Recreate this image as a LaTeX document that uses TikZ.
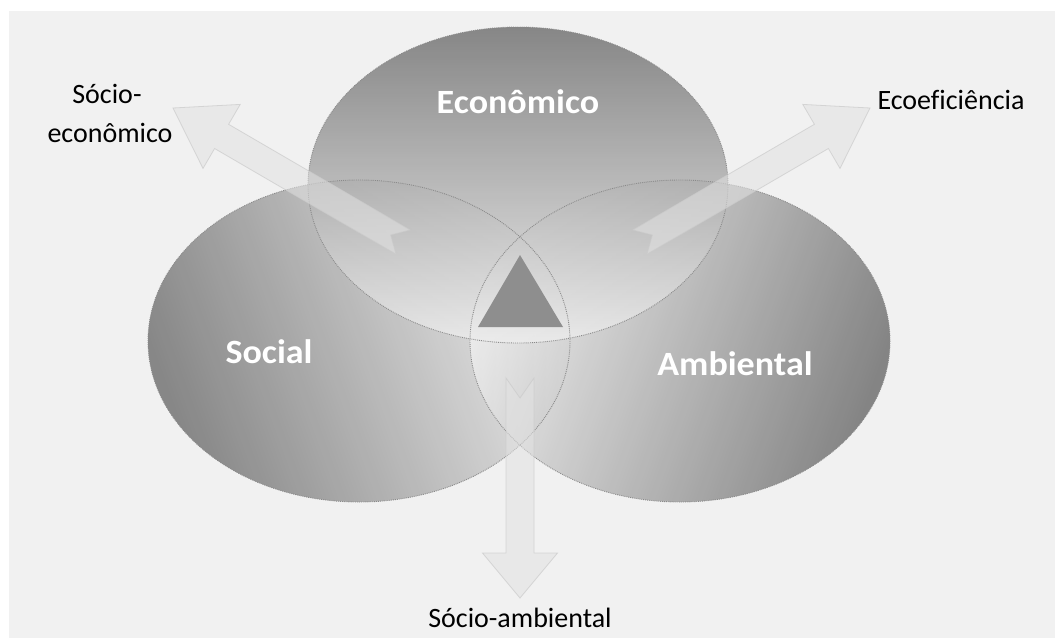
\documentclass[tikz,border=0pt]{standalone}
\usepackage{fontspec}
\newfontfamily\plainfont[Ligatures=NoCommon]{Carlito}
\newfontfamily\headfont[FakeStretch=1.06]{Carlito}

% palette
\definecolor{pagebg}{HTML}{F1F1F1}
\definecolor{ecodark}{HTML}{747474}
\definecolor{ecolight}{HTML}{EDEDED}
\definecolor{socdark}{HTML}{7C7C7C}
\definecolor{soclight}{HTML}{EAEAEA}
\definecolor{ambdark}{HTML}{727272}
\definecolor{amblight}{HTML}{EEEEEE}
\definecolor{rimgray}{HTML}{8A8A8A}
\definecolor{arrowfill}{HTML}{E2E2E2}
\definecolor{arrowedge}{HTML}{CACACA}
\definecolor{corefill}{HTML}{8E8E8E}

% gradients: dark at the left stop, light at the right stop
\pgfdeclarehorizontalshading{ecoshade}{100bp}{color(0bp)=(ecodark); color(25bp)=(ecodark); color(75bp)=(ecolight); color(100bp)=(ecolight)}
\pgfdeclarehorizontalshading{socshade}{100bp}{color(0bp)=(socdark); color(25bp)=(socdark); color(75bp)=(soclight); color(100bp)=(soclight)}
\pgfdeclarehorizontalshading{ambshade}{100bp}{color(0bp)=(ambdark); color(25bp)=(ambdark); color(75bp)=(amblight); color(100bp)=(amblight)}

\tikzset{
  rim/.style={draw=rimgray, densely dotted, line width=0.9pt},
  blockarrow/.style={fill=arrowfill, fill opacity=0.55, draw=arrowedge, draw opacity=0.7, line width=0.8pt, line join=miter},
  headlabel/.style={font=\headfont\bfseries\fontsize{34}{40}\selectfont, text=white, inner sep=0pt, anchor=base},
  sidelabel/.style={font=\plainfont\fontsize{28}{34}\selectfont, text=black, inner sep=0pt, anchor=base}
}

\begin{document}
\begin{tikzpicture}[x=1pt,y=-1pt]
\useasboundingbox (0,0) rectangle (1055,638);
\fill[white] (0,0) rectangle (1055,638);
\fill[pagebg] (9,11) rectangle (1055,638);

% the three spheres
\path[shading=socshade, shading angle=20, fill opacity=0.9]
  (359,341) ellipse [x radius=211, y radius=161];
\path[shading=ambshade, shading angle=160, fill opacity=0.85]
  (680,341) ellipse [x radius=210, y radius=161];
\path[shading=ecoshade, shading angle=-90, fill opacity=0.85]
  (518,185) ellipse [x radius=210, y radius=158];

% dotted rims on top of every fill
\draw[rim] (359,341) ellipse [x radius=211, y radius=161];
\draw[rim] (680,341) ellipse [x radius=210, y radius=161];
\draw[rim] (518,185) ellipse [x radius=210, y radius=158];

% block arrows leaving the overlaps
\draw[blockarrow] (410.0,229.9) -- (228.6,124.3) -- (240.2,104.4) -- (173,108)
  -- (203.0,168.4) -- (214.6,148.5) -- (396.0,254.1) -- (390.6,235.0) -- cycle;
\draw[blockarrow] (633.0,229.9) -- (814.4,124.3) -- (802.8,104.4) -- (870,108)
  -- (840.0,168.4) -- (828.4,148.5) -- (647.0,254.1) -- (652.4,235.0) -- cycle;
\draw[blockarrow] (506,378) -- (506,553) -- (482.5,553) -- (520,598)
  -- (557.5,553) -- (534,553) -- (534,378) -- (520,398) -- cycle;

% central triangle
\fill[corefill] (520,255) -- (478,327) -- (563,327) -- cycle;

% labels
\node[headlabel] (eco) at (518,113) {Econômico};
\node[headlabel] (soc) at (269,363) {Social};
\node[headlabel] (amb) at (735,375) {Ambiental};

\node[sidelabel] (socecoA) at (107,103) {Sócio-};
\node[sidelabel] (socecoB) at (110,142) {econômico};
\node[sidelabel] (ecoef) at (951,109) {Ecoeficiência};
\node[sidelabel] (socamb) at (520,627) {Sócio-ambiental};
\end{tikzpicture}
\end{document}
